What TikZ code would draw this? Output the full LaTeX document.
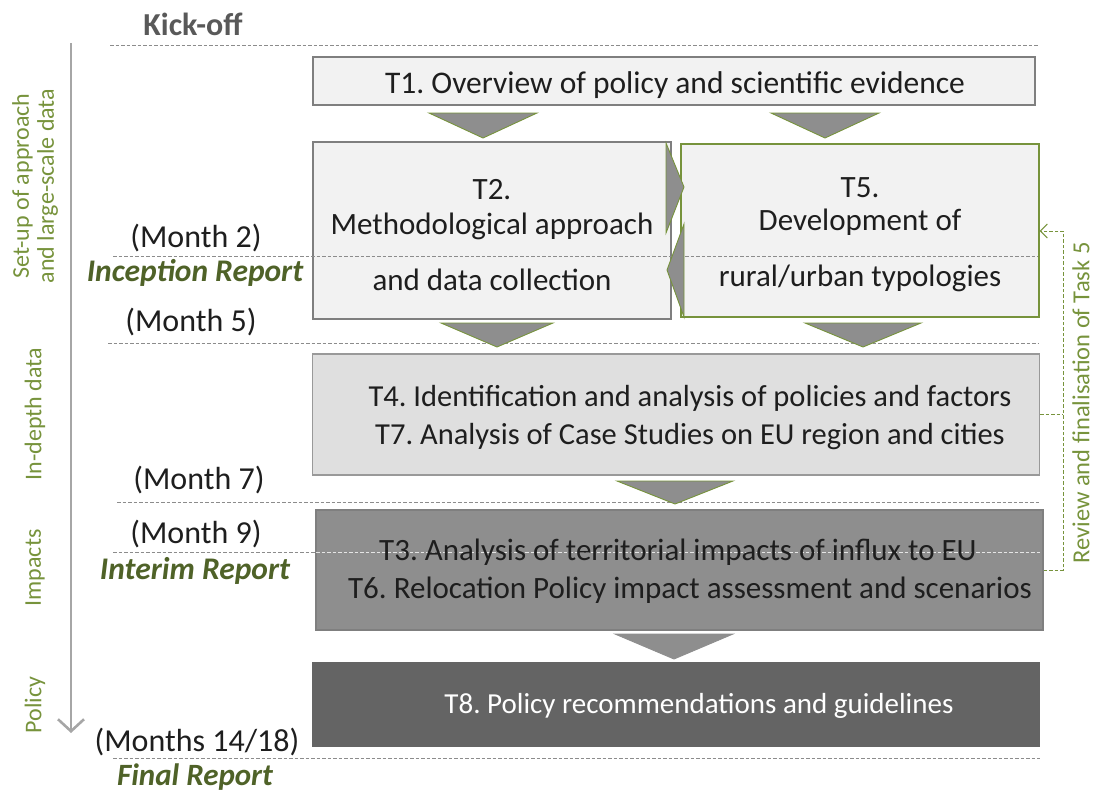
\documentclass[tikz,border=0pt]{standalone}
\usepackage{fontspec}
\setmainfont{Carlito}
\usetikzlibrary{arrows.meta}
\definecolor{gr}{HTML}{77933C}
\definecolor{dgr}{HTML}{4F6228}
\definecolor{bline}{HTML}{7F7F7F}
\definecolor{sepline}{HTML}{8C8C8C}
\definecolor{fa}{HTML}{F2F2F2}
\definecolor{fb}{HTML}{DFDFDF}
\definecolor{fc}{HTML}{8E8E8E}
\definecolor{fd}{HTML}{646464}
\definecolor{txt}{HTML}{1E1E1E}
\frenchspacing
\begin{document}
\begin{tikzpicture}[x=1pt,y=-1pt,
  tbox/.style={draw=bline, line width=1.2pt, inner sep=0pt},
  btext/.style={font=\fontsize{31}{36}\selectfont, text=txt, inner sep=0pt},
  mtext/.style={font=\fontsize{32}{36}\selectfont, text=txt, inner sep=0pt},
  rtext/.style={font=\fontsize{31.5}{34}\selectfont\bfseries\itshape, text=dgr, inner sep=0pt},
  stext/.style={font=\fontsize{24}{25}\selectfont, text=gr, rotate=90, align=center, inner sep=0pt},
  sep/.style={draw=sepline, line width=0.9pt, dash pattern=on 3.5pt off 2pt},
  tri/.style={fill=fc, draw=gr, line width=0.9pt, line join=miter},
  trig/.style={fill=fc, draw=fc, line width=0.9pt},
]
\useasboundingbox (0,0) rectangle (1094,792);

% time axis
\coordinate (axtop) at (71,43);
\coordinate (axbot) at (71,733);
\draw[draw=black!35, line width=2.6pt, -{Straight Barb[length=12pt,width=26pt]}] (axtop) -- (axbot);

% side labels
\node[stext] (s1) at (35,186) {Set-up of approach\\and large-scale data};
\node[stext] (s2) at (35,414) {In-depth data};
\node[stext] (s3) at (35,568) {Impacts};
\node[stext] (s4) at (35,705) {Policy};

% milestone labels
\node[font=\fontsize{32}{36}\selectfont\bfseries, text=black!65, inner sep=0pt] (kick) at (193,24) {Kick-off};
\node[mtext] (m2) at (196,238) {(Month 2)};
\node[rtext] (inc) at (195,273) {Inception Report};
\node[mtext] (m5) at (191,322) {(Month 5)};
\node[mtext] (m7) at (199,480) {(Month 7)};
\node[mtext] (m9) at (196,534) {(Month 9)};
\node[rtext] (int) at (195,571) {Interim Report};
\node[mtext] (m14) at (197,742) {(Months 14/18)};
\node[rtext, font=\fontsize{31}{32}\selectfont\bfseries\itshape] (fin) at (195,777) {Final Report};

% boxes
\node[tbox, fill=fa, minimum width=722pt, minimum height=48pt] (t1) at (674,81) {};
\node[tbox, fill=fa, minimum width=358pt, minimum height=177pt] (t2) at (492,230.5) {};
\node[tbox, draw=gr, fill=fa, minimum width=358pt, minimum height=173pt] (t5) at (860,230.5) {};
\node[tbox, draw=black!40, fill=fb, minimum width=727pt, minimum height=121pt] (t47) at (676,414.5) {};
\node[tbox, fill=fc, minimum width=727pt, minimum height=120pt] (t36) at (679.5,570) {};
\node[tbox, draw=fd, fill=fd, minimum width=727pt, minimum height=83pt] (t8) at (676,704.5) {};

% separators
\draw[sep] (110,45) -- (1038,45);
\draw[sep] (113,256) -- (1038,256);
\draw[sep] (108,343) -- (1038,343);
\draw[sep] (117,502) -- (1040,502);
\draw[sep] (113,552) -- (316,552);
\draw[sep, draw=white!90!black] (316,552) -- (1040,552);
\draw[sep] (113,758) -- (1040,758);

% box texts
\node[btext, font=\fontsize{31.5}{36}\selectfont] (t1a) at (675,85) {T1. Overview of policy and scientific evidence};
\node[btext] (t2a) at (492,190) {T2.};
\node[btext] (t2b) at (492,226) {Methodological approach};
\node[btext] (t2c) at (492,280) {and data collection};
\node[btext] (t5a) at (860,188) {T5.};
\node[btext] (t5b) at (860,222) {Development of};
\node[btext] (t5c) at (860,278) {rural/urban typologies};
\node[btext, font=\fontsize{30.5}{36}\selectfont] (t4a) at (690,398) {T4. Identification and analysis of policies and factors};
\node[btext, font=\fontsize{30.5}{36}\selectfont] (t7a) at (690,437) {T7. Analysis of Case Studies on EU region and cities};
\node[btext] (t3a) at (678,552) {T3. Analysis of territorial impacts of influx to EU};
\node[btext] (t6a) at (690,590) {T6. Relocation Policy impact assessment and scenarios};
\node[btext, text=white, font=\fontsize{29}{34}\selectfont] (t8a) at (699,706) {T8. Policy recommendations and guidelines};

% flow triangles
\draw[tri] (429,113) -- (537,113) -- (483,138) -- cycle;
\draw[tri] (771,113) -- (879,113) -- (825,138) -- cycle;
\draw[tri] (441,323) -- (553,323) -- (497,347) -- cycle;
\draw[tri] (805,323) -- (921,323) -- (863,347) -- cycle;
\draw[tri] (617,481) -- (733,481) -- (675,504) -- cycle;
\draw[trig] (615,634) -- (733,634) -- (674,659) -- cycle;
\draw[tri] (666,143) -- (684,187) -- (666,233) -- cycle;
\draw[tri] (684,224) -- (667,270) -- (684,317) -- cycle;

% review loop
\coordinate (rv) at (1063,231);
\draw[draw=gr, line width=1pt, dash pattern=on 3.5pt off 2pt, -{Straight Barb[length=7pt,width=14pt]}]
  (t36.east) -| (rv) -- (t5.east |- rv);
\draw[draw=gr, line width=1pt, dash pattern=on 3.5pt off 2pt] (t47.east) -- (t47.east -| rv);
\node[font=\fontsize{24.5}{28}\selectfont, text=gr, rotate=90, inner sep=0pt] (rev) at (1081,403) {Review and finalisation of Task 5};
\end{tikzpicture}
\end{document}
